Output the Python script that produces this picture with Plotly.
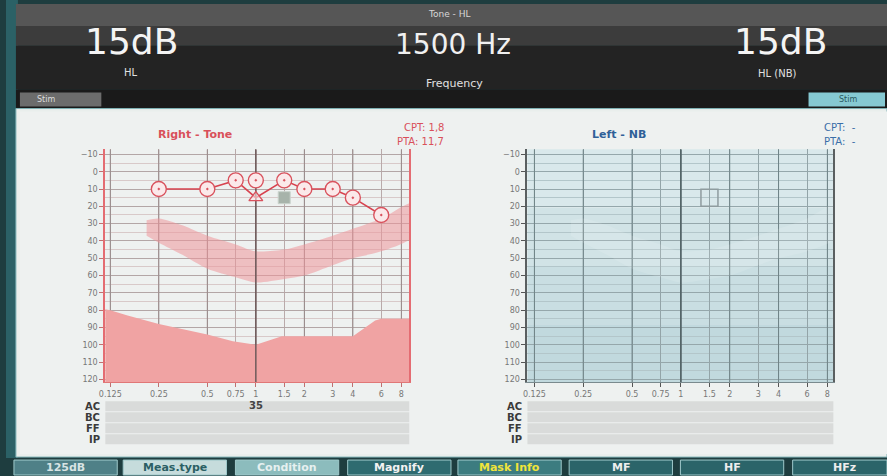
import math
import plotly.graph_objects as go

W, H = 887, 476

# ---------------- data ----------------
freq_ticks = [0.125, 0.25, 0.5, 0.75, 1, 1.5, 2, 3, 4, 6, 8]
freq_labels = ["0.125", "0.25", "0.5", "0.75", "1", "1.5", "2", "3", "4", "6", "8"]
octave_freqs = [0.125, 0.25, 0.5, 1, 2, 4, 8]
hl_ticks = [-10, 0, 10, 20, 30, 40, 50, 60, 70, 80, 90, 100, 110, 120]

right_ac_freq = [0.25, 0.5, 0.75, 1, 1.5, 2, 3, 4, 6]
right_ac_hl = [10, 10, 5, 15, 5, 10, 10, 15, 25]
right_ac_kind = ["circle", "circle", "circle", "triangle",
                 "circle", "circle", "circle", "circle", "circle"]
right_single_freq = [1]
right_single_hl = [5]

cursor_freq = [1.5]
cursor_hl = [15]

banana_freq = [0.21, 0.25, 0.35, 0.5, 0.75, 1, 1.5, 2, 3, 4, 6, 9.5]
banana_top = [28, 27, 31, 37, 42, 46, 45, 42, 37, 33, 27, 18]
banana_bottom = [37, 41, 48, 56, 61, 64, 62, 60, 54, 50, 46, 37]

limit_freq = [0.11, 0.125, 0.16, 0.25, 0.5, 0.72, 1, 1.45, 2, 3, 4, 5.5, 6, 9.5]
limit_hl = [79, 80, 83, 88, 94, 98, 100, 95, 95, 95, 95, 86, 85, 85]
limit_floor = 130

ac_mask_freq = [1]
ac_mask_text = ["35"]
row_labels = ["AC", "BC", "FF", "IP"]

header_left_value = "15dB"
header_left_label = "HL"
header_mid_value = "1500 Hz"
header_mid_label = "Frequency"
header_right_value = "15dB"
header_right_label = "HL (NB)"
header_title = "Tone - HL"

button_labels = ["125dB", "Meas.type", "Condition", "Magnify", "Mask Info", "MF", "HF", "HFz"]

# ---------------- helpers ----------------
def px(x):
    return x / W


def py(y):
    return 1 - y / H


def lg(v):
    return math.log10(v)


shapes = []
annotations = []


def rect(x0, y0, x1, y1, color, line=None, layer="below"):
    shapes.append(dict(type="rect", xref="paper", yref="paper",
                       x0=px(x0), x1=px(x1), y0=py(y1), y1=py(y0),
                       fillcolor=color, line=dict(width=0 if line is None else 1,
                                                  color=line or color),
                       layer=layer))


def text(x, y, s, size, color, family="DejaVu Sans", xanchor="center",
         yanchor="middle", bold=False):
    annotations.append(dict(x=px(x), y=py(y), xref="paper", yref="paper",
                            text=("<b>%s</b>" % s) if bold else s,
                            showarrow=False, xanchor=xanchor, yanchor=yanchor,
                            font=dict(size=size, color=color, family=family)))


# ---------------- background chrome ----------------
rect(0, 0, W, H, "#1e3d3f")
rect(0, 0, 12, 460, "#2b6166")
rect(10, 4, W, 26, "#565656")
rect(10, 26, W, 46, "#3c3c3c")
rect(10, 46, W, 90, "#232323")
rect(10, 90, W, 109, "#1a1a1a")
rect(14, 93, 96, 107, "#6c6c6c")
rect(808, 93, 885, 107, "#86c9d2")
rect(10, 109, W, 459, "#e9eeec", line="#7fb3b6")
rect(14, 112, W, 456, "#eef1f0")

text(446, 14, header_title, 9, "#d8d8d8")
text(126, 42, header_left_value, 36, "#f4f4f4")
text(450, 45, header_mid_value, 28, "#f0f0f0")
text(780, 42, header_right_value, 36, "#f4f4f4")
text(126, 73, header_left_label, 10, "#e0e0e0")
text(452, 84, header_mid_label, 11, "#e0e0e0")
text(777, 74, header_right_label, 10, "#e0e0e0")
text(40, 100, "Stim", 8, "#dddddd")
text(848, 100, "Stim", 8, "#2a5a60")

# bottom buttons
btn_x = [8, 118, 231, 344, 455, 567, 679, 792]
btn_w = 104
btn_bg = ["#4f8087", "#c6dcdc", "#8cbcbd", "#2e6b70", "#3c7c80", "#2b6469", "#2b6469", "#2b6469"]
btn_fg = ["#d8e4e4", "#2b5f64", "#e6f0f0", "#f2f2f2", "#f0e43a", "#eeeeee", "#eeeeee", "#eeeeee"]
for bx, lab, bg, fg in zip(btn_x, button_labels, btn_bg, btn_fg):
    rect(bx, 462, min(bx + btn_w, W), 477, bg, line="#9fc9cb")
    text(bx + btn_w / 2, 469.5, lab, 11, fg, bold=True)

# rows under charts
for (x0, x1, lx) in [(100, 406, 97), (525, 833, 522)]:
    for i, lab in enumerate(row_labels):
        y0 = 403 + i * 11
        rect(x0, y0, x1, y0 + 10, "#d9dbda")
        text(lx, y0 + 5, lab, 10, "#3a3a3a", xanchor="right", bold=True)

# chart titles
text(190, 135, "Right - Tone", 11, "#d9505a", bold=True)
text(443, 128, "CPT: 1,8", 10, "#d9505a", xanchor="right")
text(443, 142, "PTA: 11,7", 10, "#d9505a", xanchor="right")
text(617, 135, "Left - NB", 11, "#2f6098", bold=True)
text(858, 128, "CPT:  -", 10, "#3a6ea8", xanchor="right")
text(858, 142, "PTA:  -", 10, "#3a6ea8", xanchor="right")

# right chart light gradient bands
for i, c in enumerate(["#d9e8eb", "#d1e3e6", "#c9dee2", "#c1d9de"]):
    y0 = 150 + i * 58.5
    rect(525, y0, 833, y0 + 58.5, c)

# ---------------- axes ----------------
Y_TOP, Y_BOT = 150, 384
ydom = [py(Y_BOT), py(Y_TOP)]
yrange = [121.7, -12.9]


def xaxis_cfg(x0, x1, rng, grid, line, tick, anchor):
    return dict(type="log", domain=[px(x0), px(x1)], range=rng, anchor=anchor,
                tickmode="array", tickvals=freq_ticks, ticktext=freq_labels,
                showgrid=True, gridcolor=grid, gridwidth=1,
                ticks="outside", ticklen=4, tickcolor=tick, tickwidth=1,
                tickfont=dict(size=8, color="#777777", family="DejaVu Sans"),
                showline=True, linecolor=line, linewidth=1,
                zeroline=False, fixedrange=True)


def yaxis_cfg(anchor, grid, minor_grid, line, tick):
    return dict(domain=ydom, range=yrange, anchor=anchor,
                tickmode="array", tickvals=hl_ticks,
                showgrid=True, gridcolor=grid, gridwidth=1,
                minor=dict(dtick=5, tick0=0, showgrid=True, gridcolor=minor_grid, ticks=""),
                ticks="outside", ticklen=4, tickcolor=tick, tickwidth=1,
                tickfont=dict(size=8, color="#777777", family="DejaVu Sans"),
                showline=True, mirror=True, linecolor=line, linewidth=2,
                zeroline=False, fixedrange=True)


fig = go.Figure()

hl_span = [yrange[1], yrange[0]]


def vline(f, xa, ya, color, width):
    fig.add_trace(go.Scatter(x=[f, f], y=hl_span, mode="lines",
                             line=dict(color=color, width=width),
                             hoverinfo="skip", showlegend=False, xaxis=xa, yaxis=ya))


# octave emphasis
for f in octave_freqs:
    vline(f, "x", "y", "#978a8a", 1)
    vline(f, "x2", "y2", "#6f8387", 1)

# left chart (Right ear)
fig.add_trace(go.Scatter(
    x=banana_freq + banana_freq[::-1], y=banana_top + banana_bottom[::-1],
    mode="lines", fill="toself", line=dict(width=0, shape="spline", smoothing=0.8),
    fillcolor="rgba(238,150,155,0.55)", hoverinfo="skip", showlegend=False,
    xaxis="x", yaxis="y"))
fig.add_trace(go.Scatter(
    x=limit_freq + [limit_freq[-1], limit_freq[0]],
    y=limit_hl + [limit_floor, limit_floor],
    mode="lines", fill="toself", line=dict(width=0),
    fillcolor="#f0a3a3", hoverinfo="skip", showlegend=False,
    xaxis="x", yaxis="y"))
vline(1, "x", "y", "#6d5a5a", 1.5)

fig.add_trace(go.Scatter(
    x=right_ac_freq, y=right_ac_hl, mode="lines",
    line=dict(color="#d8434f", width=1.6),
    hoverinfo="skip", showlegend=False, xaxis="x", yaxis="y"))
circ_f = [f for f, k in zip(right_ac_freq, right_ac_kind) if k == "circle"] + right_single_freq
circ_h = [h for h, k in zip(right_ac_hl, right_ac_kind) if k == "circle"] + right_single_hl
tri_f = [f for f, k in zip(right_ac_freq, right_ac_kind) if k == "triangle"]
tri_h = [h for h, k in zip(right_ac_hl, right_ac_kind) if k == "triangle"]
fig.add_trace(go.Scatter(
    x=circ_f, y=circ_h, mode="markers",
    marker=dict(symbol="circle-dot", size=15, color="#fbe9ea",
                line=dict(color="#d9535e", width=1.4)),
    showlegend=False, xaxis="x", yaxis="y"))
fig.add_trace(go.Scatter(
    x=tri_f, y=tri_h, mode="markers",
    marker=dict(symbol="triangle-up", size=12, color="rgba(251,233,234,0.6)",
                line=dict(color="#d9535e", width=1.4)),
    showlegend=False, xaxis="x", yaxis="y"))
fig.add_trace(go.Scatter(
    x=cursor_freq, y=cursor_hl, mode="markers",
    marker=dict(symbol="square", size=12, color="#a7b3aa",
                line=dict(color="#c9d2cc", width=1)),
    showlegend=False, xaxis="x", yaxis="y"))

# right chart (Left ear)
fig.add_trace(go.Scatter(
    x=banana_freq + banana_freq[::-1], y=banana_top + banana_bottom[::-1],
    mode="lines", fill="toself", line=dict(width=0, shape="spline", smoothing=0.8),
    fillcolor="rgba(255,255,255,0.12)", hoverinfo="skip", showlegend=False,
    xaxis="x2", yaxis="y2"))
vline(1, "x2", "y2", "#4e5e62", 1.5)
fig.add_trace(go.Scatter(
    x=cursor_freq, y=cursor_hl, mode="markers",
    marker=dict(symbol="square", size=17, color="rgba(0,0,0,0)",
                line=dict(color="#8f9c9f", width=1.5)),
    showlegend=False, xaxis="x2", yaxis="y2"))

# masking value in AC row
for f, t in zip(ac_mask_freq, ac_mask_text):
    annotations.append(dict(x=lg(f), y=py(407), xref="x", yref="paper", text="<b>%s</b>" % t,
                            showarrow=False, xanchor="center", yanchor="middle",
                            font=dict(size=10, color="#444444", family="DejaVu Sans")))

fig.update_layout(
    width=W, height=H, margin=dict(l=0, r=0, t=0, b=0),
    paper_bgcolor="#1e3d3f", plot_bgcolor="#f7e3e3",
    showlegend=False,
    xaxis=xaxis_cfg(100, 406, [-0.934, 0.952], "#b9aaaa", "#e07777", "#c07070", "y"),
    yaxis=yaxis_cfg("x", "#b3a6a6", "#d8c9c9", "#e46c72", "#c07070"),
    xaxis2=xaxis_cfg(525, 833, [-0.946, 0.940], "#93a4a8", "#7a8a8e", "#555555", "y2"),
    yaxis2=yaxis_cfg("x2", "#95a7ab", "#b3c6ca", "#5a5f60", "#555555"),
    shapes=shapes, annotations=annotations,
)

fig.write_html("out.html", config={"displayModeBar": False},
               post_script="document.body.style.margin='0';document.body.style.overflow='hidden';")
